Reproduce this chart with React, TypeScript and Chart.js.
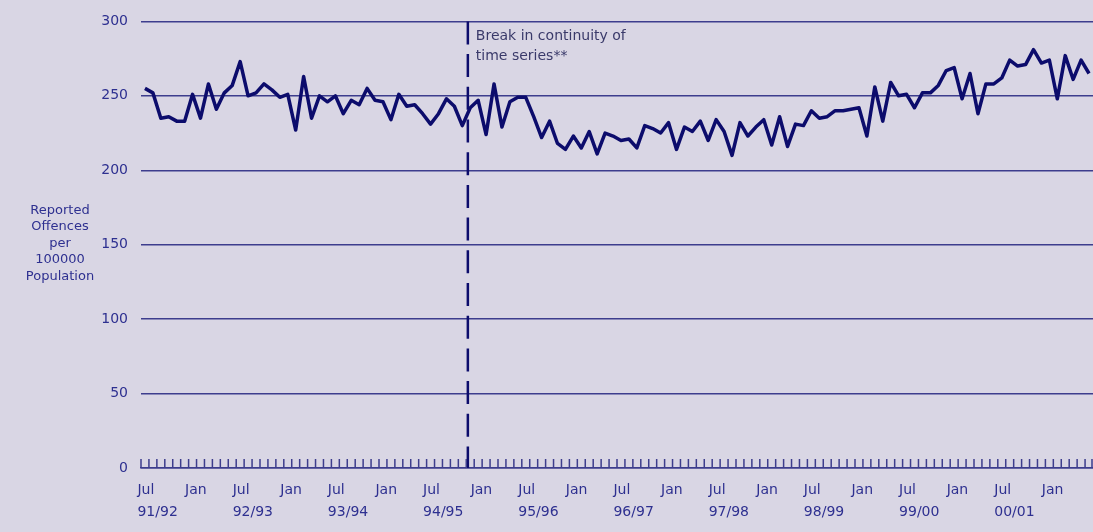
import React, { useEffect, useRef } from 'react';
import { Chart, registerables } from 'chart.js';

Chart.register(...registerables);

// ---- Data ----
const FINANCIAL_YEARS = ['91/92', '92/93', '93/94', '94/95', '95/96', '96/97', '97/98', '98/99', '99/00', '00/01'];
const MONTHS = ['Jul', 'Aug', 'Sep', 'Oct', 'Nov', 'Dec', 'Jan', 'Feb', 'Mar', 'Apr', 'May', 'Jun'];
const LABELLED_MONTHS = ['Jul', 'Jan'];

const fy9192 = [255, 252, 235, 236, 233, 233, 251, 235, 258, 241, 252, 257];
const fy9293 = [273, 250, 252, 258, 254, 249, 251, 227, 263, 235, 250, 246];
const fy9394 = [250, 238, 247, 244, 255, 247, 246, 234, 251, 243, 244, 238];
const fy9495 = [231, 238, 248, 243, 230, 242, 247, 224, 258, 229, 246, 249];
const fy9596 = [249, 236, 222, 233, 218, 214, 223, 215, 226, 211, 225, 223];
const fy9697 = [220, 221, 215, 230, 228, 225, 232, 214, 229, 226, 233, 220];
const fy9798 = [234, 226, 210, 232, 223, 229, 234, 217, 236, 216, 231, 230];
const fy9899 = [240, 235, 236, 240, 240, 241, 242, 223, 256, 233, 259, 250];
const fy9900 = [251, 242, 252, 252, 257, 267, 269, 248, 265, 238, 258, 258];
const fy0001 = [262, 274, 270, 271, 281, 272, 274, 248, 277, 261, 274, 265];

const YEARLY_VALUES = [fy9192, fy9293, fy9394, fy9495, fy9596, fy9697, fy9798, fy9899, fy9900, fy0001];

const Y_MIN = 0;
const Y_MAX = 300;
const Y_STEP = 50;

const Y_TITLE = ['Reported', 'Offences', 'per', '100000', 'Population'];
const BREAK_NOTE = ['Break in continuity of', 'time series**'];
const BREAK_POSITION = 40.7; // between Nov 94 and Dec 94 (category index)

// ---- Styles ----
const BG = '#d9d6e4';
const LINE = '#0c0c6c';
const TEXT = '#2e3090';
const NOTE = '#3a3a6a';
const GRID = '#3d3d8d';
const FONT = '"DejaVu Sans", sans-serif';

const categories: string[] = [];
FINANCIAL_YEARS.forEach((fy) => MONTHS.forEach((m) => categories.push(`${m} ${fy}`)));
const values: number[] = YEARLY_VALUES.flat();

function breakPixel(x: any) {
  const i = Math.floor(BREAK_POSITION);
  const p0 = x.getPixelForValue(i);
  const p1 = x.getPixelForValue(i + 1);
  return p0 + (p1 - p0) * (BREAK_POSITION - i);
}

const overlayPlugin = {
  id: 'overlay',
  beforeDatasetsDraw(chart: any) {
    const { ctx, chartArea, scales } = chart;
    const bx = breakPixel(scales.x);
    ctx.save();
    ctx.strokeStyle = LINE;
    ctx.lineWidth = 2.5;
    ctx.setLineDash([23, 9.7]);
    ctx.beginPath();
    ctx.moveTo(bx, chartArea.top);
    ctx.lineTo(bx, chartArea.bottom);
    ctx.stroke();
    ctx.restore();
  },
  afterDraw(chart: any) {
    const { ctx, chartArea, scales } = chart;
    const x = scales.x;
    const y = scales.y;
    ctx.save();
    // monthly tick marks rising from the axis
    const half = (x.getPixelForValue(1) - x.getPixelForValue(0)) / 2;
    ctx.strokeStyle = GRID;
    ctx.lineWidth = 1.5;
    ctx.beginPath();
    for (let i = 0; i <= values.length; i++) {
      const px = i < values.length ? x.getPixelForValue(i) - half : x.getPixelForValue(i - 1) + half;
      const xx = Math.min(px, chartArea.right - 1);
      ctx.moveTo(xx, chartArea.bottom);
      ctx.lineTo(xx, chartArea.bottom - 9);
    }
    ctx.stroke();

    // break note
    const bx = breakPixel(x);
    ctx.fillStyle = NOTE;
    ctx.font = `14px ${FONT}`;
    ctx.textAlign = 'left';
    ctx.textBaseline = 'middle';
    BREAK_NOTE.forEach((t, i) => ctx.fillText(t, bx + 8, chartArea.top + 15 + i * 20));

    // y axis title (horizontal, stacked)
    ctx.fillStyle = TEXT;
    ctx.font = `13px ${FONT}`;
    ctx.textAlign = 'center';
    const cy = y.getPixelForValue(150) - 1.5;
    const lh = 16.5;
    Y_TITLE.forEach((t, i) => ctx.fillText(t, 60, cy + (i - (Y_TITLE.length - 1) / 2) * lh));
    ctx.restore();
  },
};

export default function App() {
  const canvasRef = useRef<HTMLCanvasElement>(null);

  useEffect(() => {
    document.body.style.margin = '0';
    document.body.style.background = BG;
    const canvas = canvasRef.current;
    if (!canvas) return;
    const chart = new Chart(canvas, {
      type: 'line',
      data: {
        labels: categories,
        datasets: [
          {
            data: values,
            borderColor: LINE,
            borderWidth: 3.5,
            pointRadius: 0,
            tension: 0,
            fill: false,
            borderJoinStyle: 'round',
          },
        ],
      },
      options: {
        animation: false,
        responsive: true,
        maintainAspectRatio: false,
        layout: { padding: { top: 18, right: 0, bottom: 0, left: 0 } },
        plugins: {
          legend: { display: false },
          tooltip: { enabled: false },
          title: { display: false },
        },
        scales: {
          x: {
            type: 'category',
            offset: true,
            grid: { display: true, offset: true, drawOnChartArea: false, drawTicks: false },
            border: { display: true, color: GRID, width: 1.5 },
            afterFit: (scale: any) => {
              scale.height = 64;
              scale.paddingLeft = 0;
              scale.paddingRight = 0;
            },
            ticks: {
              autoSkip: false,
              maxRotation: 0,
              minRotation: 0,
              align: 'start',
              labelOffset: -7.5,
              padding: 11,
              color: TEXT,
              font: { family: FONT, size: 14, lineHeight: 22 / 14 },
              callback: (_v: any, idx: number) => {
                const m = MONTHS[idx % 12];
                if (!LABELLED_MONTHS.includes(m)) return '';
                if (idx % 12 === 0) return [m, FINANCIAL_YEARS[Math.floor(idx / 12)]];
                return [m, ''];
              },
            },
          },
          y: {
            min: Y_MIN,
            max: Y_MAX,
            grid: { color: GRID, lineWidth: 1.5, drawTicks: false },
            border: { display: false },
            afterFit: (scale: any) => {
              scale.width = 141;
            },
            ticks: {
              stepSize: Y_STEP,
              padding: 13,
              color: TEXT,
              font: { family: FONT, size: 14 },
            },
          },
        },
      },
      plugins: [overlayPlugin],
    });
    return () => chart.destroy();
  }, []);

  return (
    <div style={{ position: 'fixed', left: 0, top: 0, width: 1093, height: 532, background: BG }}>
      <canvas ref={canvasRef} />
    </div>
  );
}
